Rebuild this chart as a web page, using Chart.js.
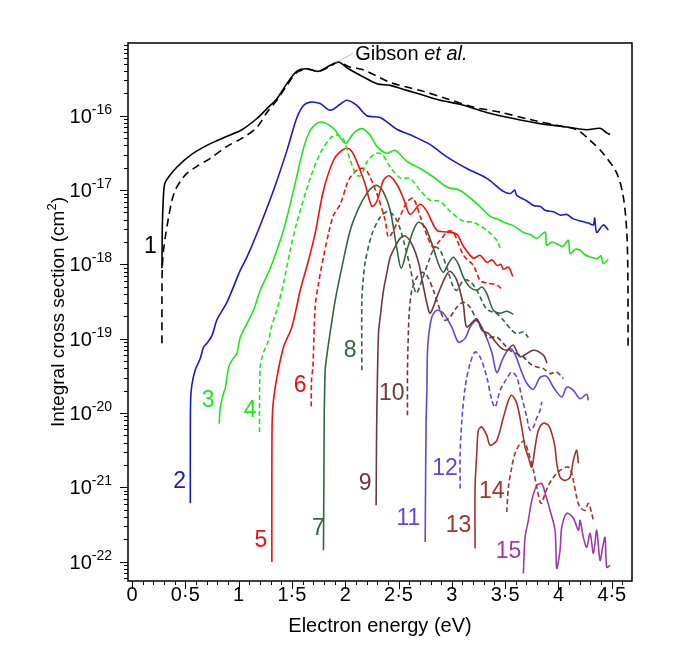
<!DOCTYPE html>
<html>
<head>
<meta charset="utf-8">
<script src="https://cdn.jsdelivr.net/npm/chart.js@4.4.1/dist/chart.umd.min.js"></script>
<style>
  html, body { margin: 0; padding: 0; background: #fff; }
</style>
</head>
<body>
<canvas id="chart" width="685" height="653"></canvas>
<script>
// energies in eV, cross sections in cm^2
const curve1 = [[0.281, 8.9e-19], [0.284, 2.9e-18], [0.293, 7.3e-18], [0.306, 1.2e-17], [0.343, 1.5e-17], [0.422, 2.05e-17], [0.547, 2.94e-17], [0.703, 4.0e-17], [0.891, 5.3e-17], [1.031, 6.5e-17], [1.172, 9.2e-17], [1.266, 1.25e-16], [1.359, 1.7e-16], [1.453, 2.71e-16], [1.547, 4.0e-16], [1.641, 4.3e-16], [1.749, 3.97e-16], [1.859, 4.78e-16], [1.937, 5.3e-16], [2.031, 4.3e-16], [2.141, 3.51e-16], [2.297, 2.71e-16], [2.422, 2.57e-16], [2.578, 2.2e-16], [2.734, 1.89e-16], [2.891, 1.62e-16], [3.078, 1.43e-16], [3.328, 1.11e-16], [3.577, 9.2e-17], [3.828, 7.85e-17], [4.078, 7.07e-17], [4.265, 6.5e-17], [4.39, 6.8e-17], [4.453, 5.9e-17], [4.484, 5.6e-17]]
const gibson = [[0.281, 8.7e-20], [0.281, 3.3e-19], [0.284, 8.9e-19], [0.296, 1.55e-18], [0.312, 2.32e-18], [0.343, 4.3e-18], [0.375, 7.3e-18], [0.406, 1.0e-17], [0.453, 1.31e-17], [0.516, 1.69e-17], [0.609, 2.09e-17], [0.734, 2.68e-17], [0.891, 3.88e-17], [1.046, 5.14e-17], [1.172, 7.0e-17], [1.266, 1.11e-16], [1.359, 1.62e-16], [1.453, 2.57e-16], [1.547, 3.85e-16], [1.641, 4.23e-16], [1.749, 3.97e-16], [1.859, 4.64e-16], [1.937, 5.25e-16], [2.047, 4.5e-16], [2.168, 4.18e-16], [2.422, 2.82e-16], [2.731, 2.14e-16], [2.953, 1.7e-16], [3.2, 1.31e-16], [3.453, 1.12e-16], [3.734, 8.9e-17], [3.984, 7.45e-17], [4.172, 6.5e-17], [4.297, 4.68e-17], [4.418, 3.13e-17], [4.547, 1.69e-17], [4.609, 8.07e-18], [4.64, 2.88e-18], [4.65, 1.0e-18], [4.653, 2.2e-19], [4.653, 7.0e-20]]
const curve2 = [[0.547, 6.1e-22], [0.547, 4.3e-21], [0.55, 1.5e-20], [0.562, 2.4e-20], [0.593, 3.8e-20], [0.64, 5.4e-20], [0.671, 7.7e-20], [0.703, 8.7e-20], [0.75, 1.1e-19], [0.797, 1.8e-19], [0.891, 3.1e-19], [1.015, 8.3e-19], [1.078, 1.25e-18], [1.172, 2.6e-18], [1.327, 9.9e-18], [1.453, 3.4e-17], [1.547, 9.5e-17], [1.609, 1.38e-16], [1.672, 1.53e-16], [1.765, 1.46e-16], [1.859, 1.19e-16], [1.953, 1.43e-16], [2.016, 1.62e-16], [2.109, 1.38e-16], [2.203, 1.0e-16], [2.328, 9.5e-17], [2.484, 6.6e-17], [2.64, 5.3e-17], [2.797, 4.1e-17], [2.953, 2.8e-17], [3.141, 1.95e-17], [3.328, 1.44e-17], [3.484, 9.6e-18], [3.55, 9.0e-18], [3.59, 1.0e-17], [3.609, 8.5e-18], [3.7, 7.2e-18], [3.765, 6.2e-18], [3.83, 6.0e-18], [3.88, 5.3e-18], [3.952, 5.1e-18], [4.02, 4.6e-18], [4.08, 4.7e-18], [4.14, 4.1e-18], [4.22, 3.8e-18], [4.28, 3.6e-18], [4.327, 3.4e-18], [4.34, 4.2e-18], [4.359, 2.7e-18], [4.421, 3.4e-18], [4.468, 2.9e-18]]
const curve3 = [[0.818, 7.2e-21], [0.828, 1.19e-20], [0.859, 1.84e-20], [0.875, 2.15e-20], [0.906, 4.12e-20], [0.937, 5.12e-20], [0.984, 6.36e-20], [1.015, 1.04e-19], [1.078, 1.6e-19], [1.14, 2.41e-19], [1.203, 4.48e-19], [1.297, 8.86e-19], [1.421, 2.88e-18], [1.515, 9.9e-18], [1.609, 3.66e-17], [1.672, 6.38e-17], [1.765, 8.25e-17], [1.89, 6.79e-17], [2.0, 4.26e-17], [2.078, 5.81e-17], [2.156, 6.72e-17], [2.234, 5.47e-17], [2.297, 3.88e-17], [2.391, 3.13e-17], [2.468, 3.43e-17], [2.578, 2.44e-17], [2.703, 1.95e-17], [2.827, 1.5e-17], [2.953, 1.1e-17], [3.078, 9.9e-18], [3.234, 6.58e-18], [3.359, 4.44e-18], [3.44, 4.0e-18], [3.515, 3.57e-18], [3.58, 3.3e-18], [3.671, 2.7e-18], [3.74, 2.5e-18], [3.797, 2.24e-18], [3.875, 2.73e-18], [3.89, 1.81e-18], [3.94, 2.0e-18], [3.984, 1.9e-18], [4.04, 1.75e-18], [4.093, 2.11e-18], [4.109, 1.4e-18], [4.16, 1.6e-18], [4.203, 1.55e-18], [4.25, 1.35e-18], [4.297, 1.26e-18], [4.36, 1.2e-18], [4.4, 1.3e-18], [4.421, 1.02e-18], [4.468, 1.16e-18]]
const curve4 = [[1.196, 5.55e-21], [1.196, 9.8e-21], [1.203, 4.16e-20], [1.234, 6.56e-20], [1.281, 9.5e-20], [1.312, 1.52e-19], [1.359, 2.41e-19], [1.421, 5.52e-19], [1.484, 1.55e-18], [1.547, 3.69e-18], [1.672, 1.44e-17], [1.765, 3.1e-17], [1.859, 4.98e-17], [1.915, 5.55e-17], [1.984, 4.83e-17], [2.047, 2.52e-17], [2.109, 1.58e-17], [2.15, 1.58e-17], [2.203, 2.37e-17], [2.281, 3.1e-17], [2.346, 3.03e-17], [2.422, 2.05e-17], [2.515, 1.46e-17], [2.609, 1.43e-17], [2.703, 9.9e-18], [2.797, 7.29e-18], [2.89, 7.07e-18], [2.984, 5.18e-18], [3.109, 3.8e-18], [3.202, 3.69e-18], [3.328, 2.88e-18], [3.422, 2.11e-18], [3.453, 1.65e-18]]
const curve5 = [[1.312, 9.9e-23], [1.312, 1.24e-21], [1.315, 7.97e-21], [1.327, 1.48e-20], [1.359, 3.02e-20], [1.421, 7.66e-20], [1.5, 1.44e-19], [1.578, 4.48e-19], [1.656, 1.14e-18], [1.718, 2.62e-18], [1.796, 9.9e-18], [1.89, 2.52e-17], [1.969, 3.43e-17], [2.031, 3.62e-17], [2.078, 3.03e-17], [2.14, 1.85e-17], [2.187, 1.2e-17], [2.25, 6.05e-18], [2.297, 7.07e-18], [2.359, 1.36e-17], [2.412, 1.56e-17], [2.484, 1.2e-17], [2.546, 7.75e-18], [2.609, 4.72e-18], [2.703, 6.44e-18], [2.766, 5.18e-18], [2.859, 2.88e-18], [2.953, 2.73e-18], [3.047, 2.54e-18], [3.109, 1.75e-18], [3.202, 1.21e-18], [3.265, 1.33e-18], [3.328, 1.07e-18], [3.38, 1.15e-18], [3.422, 9.7e-19], [3.46, 1.0e-18], [3.484, 8.6e-19], [3.531, 9.2e-19], [3.572, 6.9e-19]]
const curve6 = [[1.681, 1.23e-20], [1.684, 2.76e-20], [1.697, 4.16e-20], [1.718, 2.67e-19], [1.749, 5.52e-19], [1.796, 1.26e-18], [1.843, 2.6e-18], [1.89, 4.58e-18], [1.953, 6.44e-18], [2.016, 1.2e-17], [2.047, 1.49e-17], [2.121, 1.9e-17], [2.168, 1.96e-17], [2.206, 1.79e-17], [2.297, 8.97e-18], [2.375, 3.92e-18], [2.407, 2.32e-18], [2.484, 3.57e-18], [2.578, 6.85e-18], [2.637, 7.75e-18], [2.703, 4.44e-18], [2.766, 2.47e-18], [2.825, 1.7e-18], [2.89, 2.11e-18], [2.965, 2.79e-18], [3.015, 2.7e-18], [3.109, 1.33e-18], [3.202, 9.7e-19], [3.265, 6.1e-19], [3.328, 5.6e-19], [3.42, 5.3e-19], [3.481, 4.5e-19]]
const curve7 = [[1.796, 1.42e-22], [1.8, 1.24e-21], [1.803, 7.97e-21], [1.812, 3.76e-20], [1.828, 5.98e-20], [1.859, 1.22e-19], [1.906, 3.29e-19], [1.969, 9.2e-19], [2.047, 2.88e-18], [2.125, 5.69e-18], [2.203, 9.05e-18], [2.265, 1.12e-17], [2.309, 1.14e-17], [2.359, 9.4e-18], [2.422, 5.35e-18], [2.484, 1.65e-18], [2.525, 8.86e-19], [2.578, 1.55e-18], [2.64, 2.88e-18], [2.687, 3.69e-18], [2.75, 3.16e-18], [2.812, 1.92e-18], [2.874, 1.02e-18], [2.921, 7.83e-19], [2.968, 1.03e-18], [3.015, 1.25e-18], [3.062, 1.0e-18], [3.109, 6.7e-19], [3.171, 4.92e-19], [3.234, 4.48e-19], [3.281, 4.96e-19], [3.328, 4.05e-19], [3.39, 2.41e-19], [3.453, 2.2e-19], [3.515, 2.34e-19], [3.577, 2.14e-19]]
const curve8 = [[2.156, 3.76e-20], [2.156, 3.29e-19], [2.171, 6.7e-19], [2.187, 1.07e-18], [2.25, 2.54e-18], [2.328, 4.3e-18], [2.406, 5.18e-18], [2.484, 3.92e-18], [2.546, 2.11e-18], [2.609, 9.2e-19], [2.665, 4.09e-19], [2.719, 6.1e-19], [2.797, 1.25e-18], [2.843, 1.7e-18], [2.89, 1.55e-18], [2.953, 9.1e-19], [3.015, 4.92e-19], [3.047, 4.48e-19], [3.109, 6.1e-19], [3.171, 5.9e-19], [3.234, 4.48e-19], [3.328, 2.5e-19], [3.422, 2.17e-19], [3.484, 1.77e-19], [3.562, 1.3e-19], [3.609, 1.17e-19], [3.671, 1.23e-19], [3.718, 1.04e-19]]
const curve9 = [[2.29, 5.73e-22], [2.293, 3.15e-21], [2.297, 1.09e-20], [2.312, 1.18e-19], [2.328, 1.94e-19], [2.359, 4.48e-19], [2.39, 7.59e-19], [2.422, 1.25e-18], [2.468, 1.72e-18], [2.515, 2.24e-18], [2.562, 2.42e-18], [2.625, 1.87e-18], [2.687, 1.07e-18], [2.731, 5.23e-19], [2.766, 3.0e-19], [2.797, 2.2e-19], [2.859, 3.61e-19], [2.937, 6.7e-19], [2.984, 8.07e-19], [3.047, 6.1e-19], [3.109, 2.8e-19], [3.14, 1.44e-19], [3.234, 1.85e-19], [3.281, 1.3e-19], [3.343, 1.18e-19], [3.453, 7.7e-20], [3.515, 7.0e-20], [3.577, 8.2e-20], [3.64, 5.7e-20], [3.765, 7.0e-20], [3.859, 6.0e-20], [3.893, 4.7e-20]]
const curve10 = [[2.584, 9.3e-21], [2.584, 3.76e-20], [2.593, 1.3e-19], [2.602, 2.41e-19], [2.625, 4.48e-19], [2.672, 6.7e-19], [2.719, 7.83e-19], [2.766, 7.13e-19], [2.827, 4.48e-19], [2.89, 2.41e-19], [2.937, 1.77e-19], [2.984, 1.96e-19], [3.047, 2.65e-19], [3.109, 3.09e-19], [3.171, 2.65e-19], [3.234, 1.77e-19], [3.296, 1.3e-19], [3.343, 1.05e-19], [3.422, 1.05e-19], [3.484, 8.6e-20], [3.546, 6.98e-20], [3.609, 6.3e-20], [3.671, 5.67e-20], [3.734, 4.63e-20], [3.797, 4.16e-20], [3.859, 3.96e-20], [3.921, 3.39e-20], [3.984, 3.56e-20], [4.046, 2.9e-20]]
const curve11 = [[2.75, 1.84e-22], [2.754, 1.24e-21], [2.759, 7.97e-21], [2.766, 2.02e-20], [2.771, 6.36e-20], [2.781, 1.04e-19], [2.812, 1.94e-19], [2.859, 2.41e-19], [2.921, 2.2e-19], [3.0, 1.43e-19], [3.062, 9.0e-20], [3.125, 1.01e-19], [3.171, 1.43e-19], [3.234, 1.77e-19], [3.296, 1.3e-19], [3.375, 6.56e-20], [3.422, 3.5e-20], [3.484, 5.62e-20], [3.546, 7.36e-20], [3.593, 6.17e-20], [3.656, 3.53e-20], [3.703, 2.51e-20], [3.765, 2.08e-20], [3.828, 3.02e-20], [3.89, 3.12e-20], [3.953, 2.22e-20], [4.031, 1.64e-20], [4.078, 2.22e-20], [4.14, 2.02e-20], [4.203, 1.56e-20], [4.265, 1.79e-20], [4.28, 1.48e-20]]
const curve12 = [[3.078, 9.6e-22], [3.078, 2.84e-21], [3.094, 7.97e-21], [3.125, 2.24e-20], [3.171, 4.63e-20], [3.218, 6.62e-20], [3.265, 5.67e-20], [3.328, 3.05e-20], [3.375, 1.48e-20], [3.406, 1.2e-20], [3.453, 2.02e-20], [3.515, 2.9e-20], [3.562, 3.56e-20], [3.609, 3.05e-20], [3.656, 1.64e-20], [3.703, 8.83e-21], [3.734, 5.85e-21], [3.765, 6.48e-21], [3.791, 8.2e-21], [3.828, 1.09e-20], [3.844, 1.41e-20]]
const curve13 = [[3.218, 1.5e-22], [3.218, 1.0e-21], [3.234, 2.86e-21], [3.249, 5.85e-21], [3.281, 6.48e-21], [3.328, 5.0e-21], [3.359, 3.68e-21], [3.422, 4.29e-21], [3.484, 8.75e-21], [3.531, 1.48e-20], [3.562, 1.73e-20], [3.609, 1.35e-20], [3.656, 6.42e-21], [3.687, 3.46e-21], [3.718, 2.53e-21], [3.75, 1.86e-21], [3.781, 3.46e-21], [3.812, 5.85e-21], [3.859, 7.27e-21], [3.906, 6.83e-21], [3.937, 5.33e-21], [3.968, 3.46e-21], [3.984, 2.1e-21], [4.015, 1.37e-21], [4.062, 1.24e-21], [4.109, 1.37e-21], [4.14, 2.31e-21], [4.171, 3.15e-21], [4.187, 2.1e-21]]
const curve14 = [[3.515, 4.65e-22], [3.531, 1.0e-21], [3.562, 1.86e-21], [3.593, 2.86e-21], [3.64, 3.87e-21], [3.678, 4.16e-21], [3.718, 2.99e-21], [3.765, 1.69e-21], [3.797, 1.0e-21], [3.828, 6.34e-22], [3.844, 6.1e-22], [3.875, 8.3e-22], [3.906, 1.06e-21], [3.953, 1.37e-21], [4.015, 1.69e-21], [4.078, 1.88e-21], [4.109, 1.8e-21], [4.14, 1.24e-21], [4.171, 7.33e-22], [4.203, 5.38e-22], [4.25, 4.9e-22], [4.281, 6.1e-22], [4.312, 4.47e-22], [4.327, 3.6e-22]]
const curve15 = [[3.671, 6.9e-23], [3.687, 2.12e-22], [3.718, 3.6e-22], [3.75, 6.68e-22], [3.797, 1.06e-21], [3.844, 1.12e-21], [3.875, 8.3e-22], [3.921, 4.9e-22], [3.968, 2.64e-22], [3.984, 8.1e-23], [4.015, 1.42e-22], [4.031, 2.89e-22], [4.078, 4.47e-22], [4.14, 3.83e-22], [4.187, 2.64e-22], [4.203, 3.6e-22], [4.234, 2.12e-22], [4.265, 1.56e-22], [4.297, 2.4e-22], [4.328, 1.29e-22], [4.359, 2.64e-22], [4.39, 1.04e-22], [4.418, 1.66e-22], [4.437, 2.12e-22], [4.453, 8.4e-23], [4.484, 8.9e-23]]

// axis ticks
const xTickValues = [0, 0.5, 1, 1.5, 2, 2.5, 3, 3.5, 4, 4.5]
const xTickLabels = ['0', '0·5', '1', '1·5', '2', '2·5', '3', '3·5', '4', '4·5']
const yTickExponents = [-16, -17, -18, -19, -20, -21, -22]

// curve number labels, placed at [energy, cross section]
const curveNames = ['1', '2', '3', '4', '5', '6', '7', '8', '9', '10', '11', '12', '13', '14', '15']
const curveNameSpots = [[0.172, 1.72e-18], [0.446, 1.18e-21], [0.715, 1.48e-20], [1.109, 1.09e-20], [1.209, 1.94e-22], [1.578, 2.36e-20], [1.749, 2.78e-22], [2.047, 6.98e-20], [2.187, 1.12e-21], [2.437, 1.82e-20], [2.593, 3.79e-22], [2.937, 1.79e-21], [3.062, 3.08e-22], [3.375, 8.65e-22], [3.531, 1.35e-22]]

const FONT = '"Liberation Sans", Arial, Helvetica, sans-serif'
const BLACK = '#000000'
const BLUE = '#1a1acd'
const GREEN = '#1ee61e'
const RED = '#ee1111'
const DKGREEN = '#33663d'
const BROWN = '#6b3b3b'
const VIOLET = '#6545d5'
const DKRED = '#a3322c'
const PURPLE = '#a03aa8'
const curveColors = [BLACK, BLUE, GREEN, GREEN, RED, RED, DKGREEN, DKGREEN, BROWN, BROWN, VIOLET, VIOLET, DKRED, DKRED, PURPLE]

const allCurves = [curve1, curve2, curve3, curve4, curve5, curve6, curve7, curve8, curve9, curve10, curve11, curve12, curve13, curve14, curve15]

const toPoints = arr => arr.map(([x, y]) => ({ x, y }))

// curves 4, 6, 8, ... 14 are dashed, the others solid
const datasets = allCurves.map((c, i) => ({
    label: curveNames[i],
    data: toPoints(c),
    borderColor: curveColors[i],
    borderWidth: 1.6,
    borderDash: i > 1 && i % 2 === 1 ? [5, 3] : [],
}))
datasets.push({
    label: 'Gibson et al.',
    data: toPoints(gibson),
    borderColor: BLACK,
    borderWidth: 1.6,
    borderDash: [8, 5],
})

const axesPlugin = {
    id: 'axesPlugin',
    afterDraw(chart) {
        const { ctx, chartArea: a } = chart
        const x = chart.scales.x
        const y = chart.scales.y
        ctx.save()

        // frame
        ctx.strokeStyle = BLACK
        ctx.lineWidth = 1.5
        ctx.strokeRect(a.left, a.top, a.right - a.left, a.bottom - a.top)

        // ticks, pointing outwards
        ctx.lineWidth = 1
        ctx.beginPath()
        for (let i = 0; i <= 46; i++) {
            const px = Math.round(x.getPixelForValue(i / 10)) + 0.5
            const len = i % 5 === 0 ? 8 : 4
            ctx.moveTo(px, a.bottom)
            ctx.lineTo(px, a.bottom + len)
        }
        for (let e = -23; e <= -16; e++) {
            for (let m = 1; m <= 9; m++) {
                const v = m * Math.pow(10, e)
                if (v < y.min || v > y.max) continue
                const py = Math.round(y.getPixelForValue(v)) + 0.5
                const len = m === 1 ? 8 : 4
                ctx.moveTo(a.left - len, py)
                ctx.lineTo(a.left, py)
            }
        }
        ctx.stroke()

        // x tick labels
        ctx.fillStyle = BLACK
        ctx.font = `20px ${FONT}`
        ctx.textAlign = 'center'
        ctx.textBaseline = 'middle'
        xTickValues.forEach((v, i) => {
            ctx.fillText(xTickLabels[i], x.getPixelForValue(v), a.bottom + 14)
        })

        // y tick labels, 10 with a raised exponent
        ctx.textAlign = 'right'
        ctx.textBaseline = 'alphabetic'
        yTickExponents.forEach(p => {
            const py = y.getPixelForValue(Math.pow(10, p))
            const sup = String(p)
            ctx.font = `14px ${FONT}`
            const sw = ctx.measureText(sup).width
            ctx.fillText(sup, a.left - 16, py - 2)
            ctx.font = `20px ${FONT}`
            ctx.fillText('10', a.left - 16 - sw, py + 7)
        })

        // axis titles
        ctx.textAlign = 'center'
        ctx.textBaseline = 'middle'
        ctx.font = `20px ${FONT}`
        ctx.fillText('Electron energy (eV)', (a.left + a.right) / 2, 626)

        ctx.save()
        ctx.translate(57, 312)
        ctx.rotate(-Math.PI / 2)
        ctx.font = `19px ${FONT}`
        const t1 = 'Integral cross section (cm'
        const w1 = ctx.measureText(t1).width
        ctx.font = `13px ${FONT}`
        const w2 = ctx.measureText('2').width
        ctx.font = `19px ${FONT}`
        const w3 = ctx.measureText(')').width
        let cx = -(w1 + w2 + w3) / 2
        ctx.textAlign = 'left'
        ctx.textBaseline = 'alphabetic'
        ctx.fillText(t1, cx, 7)
        cx += w1
        ctx.font = `13px ${FONT}`
        ctx.fillText('2', cx, -1)
        cx += w2
        ctx.font = `19px ${FONT}`
        ctx.fillText(')', cx, 7)
        ctx.restore()

        // curve numbers
        ctx.font = `23px ${FONT}`
        ctx.textAlign = 'center'
        ctx.textBaseline = 'middle'
        curveNameSpots.forEach(([e, s], i) => {
            ctx.fillStyle = curveColors[i]
            ctx.fillText(curveNames[i], x.getPixelForValue(e), y.getPixelForValue(s))
        })

        // Gibson et al. label with its leader line
        const lx0 = x.getPixelForValue(1.906)
        const ly0 = y.getPixelForValue(5.17e-16)
        const lx1 = x.getPixelForValue(2.075)
        const ly1 = y.getPixelForValue(6.93e-16)
        ctx.strokeStyle = '#b0b0b0'
        ctx.lineWidth = 0.8
        ctx.beginPath()
        ctx.moveTo(lx0, ly0)
        ctx.lineTo(lx1, ly1)
        ctx.stroke()
        ctx.fillStyle = BLACK
        ctx.textAlign = 'left'
        ctx.textBaseline = 'alphabetic'
        ctx.font = `20px ${FONT}`
        const g = 'Gibson '
        ctx.fillText(g, lx1 + 2, ly1 + 7)
        const gw = ctx.measureText(g).width
        ctx.font = `italic 20px ${FONT}`
        ctx.fillText('et al.', lx1 + 2 + gw, ly1 + 7)

        ctx.restore()
    },
}

new Chart(document.getElementById('chart'), {
    type: 'scatter',
    data: { datasets },
    options: {
        responsive: false,
        devicePixelRatio: 1,
        animation: false,
        showLine: true,
        layout: { padding: { top: 43, right: 53, left: 0, bottom: 0 } },
        elements: {
            point: { radius: 0, hoverRadius: 0 },
            line: { tension: 0.3, fill: false, capBezierPoints: true },
        },
        plugins: {
            legend: { display: false },
            tooltip: { enabled: false },
        },
        scales: {
            x: {
                type: 'linear',
                min: -0.0375,
                max: 4.69,
                grid: { display: false },
                border: { display: false },
                ticks: { display: false },
                afterFit: s => {
                    s.height = 72
                },
            },
            y: {
                type: 'logarithmic',
                min: 5.48e-23,
                max: 9.55e-16,
                grid: { display: false },
                border: { display: false },
                ticks: { display: false },
                afterFit: s => {
                    s.width = 128
                },
            },
        },
    },
    plugins: [axesPlugin],
})
</script>
</body>
</html>
